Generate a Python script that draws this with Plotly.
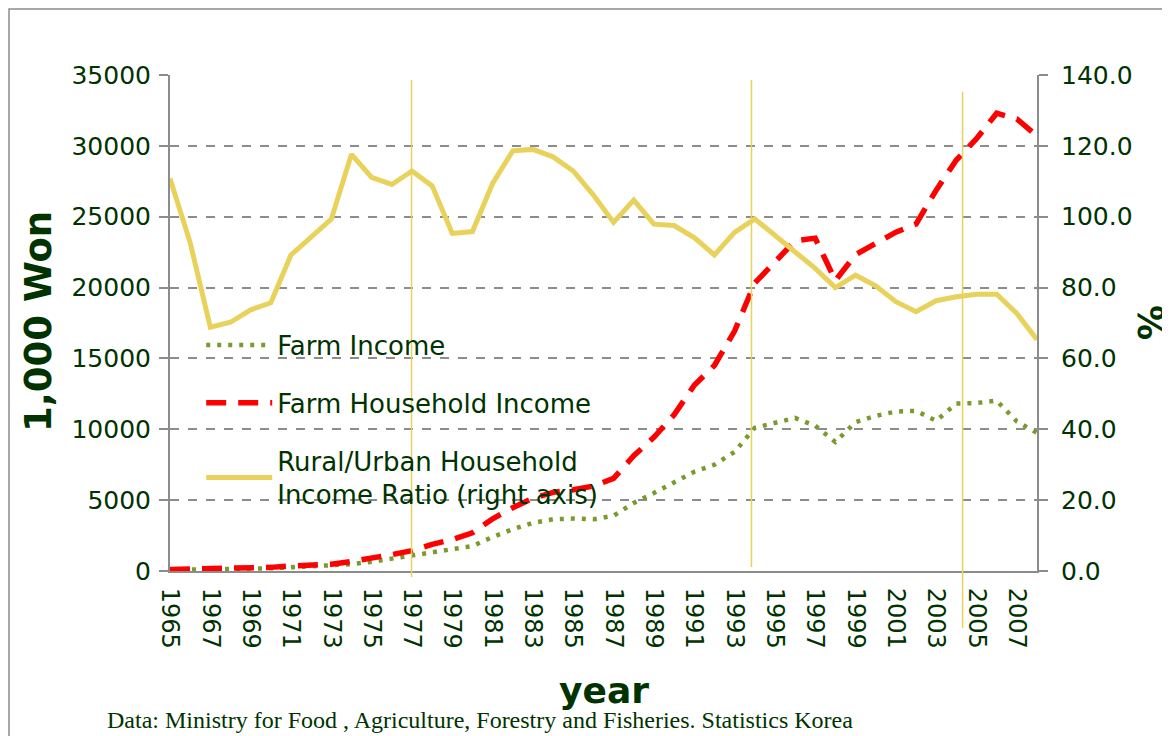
import plotly.graph_objects as go

years = list(range(1965, 2009))

farm_income = [80, 95, 110, 135, 160, 194, 260, 330, 370, 480, 650, 870, 1100, 1350, 1530,
               1760, 2400, 2950, 3400, 3650, 3700, 3650, 3900, 4800, 5500, 6260, 7000, 7500,
               8400, 10100, 10450, 10800, 10250, 9100, 10500, 10950, 11250, 11300, 10600,
               11820, 11850, 12020, 10550, 9750]

farm_household_income = [112, 130, 150, 178, 218, 256, 356, 429, 481, 674, 873, 1156, 1433,
                         1884, 2227, 2693, 3688, 4465, 5128, 5549, 5736, 5995, 6535, 8130,
                         9437, 11026, 13103, 14505, 16928, 20316, 21803, 23299, 23488, 20494,
                         22323, 23072, 23907, 24475, 26878, 29001, 30503, 32303, 31900, 30700]

ratio = [110.8, 92.7, 68.8, 70.2, 73.7, 75.7, 89.2, 94.4, 99.3, 117.6, 111.1, 109.1, 112.9,
         108.7, 95.3, 95.8, 109.4, 118.6, 119.0, 116.9, 112.9, 106.1, 98.4, 104.7, 97.9,
         97.5, 94.1, 89.2, 95.6, 99.4, 94.6, 90.0, 85.4, 80.0, 83.5, 80.5, 76.0, 73.2, 76.3,
         77.4, 78.1, 78.1, 72.7, 65.3]

x_ticks = list(range(1965, 2008, 2))
left_ticks = list(range(0, 35001, 5000))
right_ticks = [0, 20, 40, 60, 80, 100, 120, 140]

DARK = "#003300"
GREEN = "#7A9A2E"
RED = "#FF0000"
YELLOW = "#E8D25C"
GRID = "#8C8C8C"
FONT = "DejaVu Sans"

fig = go.Figure()
fig.add_trace(go.Scatter(x=years, y=farm_income, name="Farm Income", mode="lines",
                         line=dict(color=GREEN, width=4.5, dash="4px,7px"),
                         legendgroup="a"))
fig.add_trace(go.Scatter(x=years, y=farm_household_income, name="Farm Household Income",
                         mode="lines", line=dict(color=RED, width=5.5, dash="20px,12px"),
                         legendgroup="b"))
fig.add_trace(go.Scatter(x=years, y=ratio, name="Rural/Urban Household<br>Income Ratio (right axis)",
                         mode="lines", line=dict(color=YELLOW, width=5), yaxis="y2",
                         legendgroup="c"))

# thin vertical marker lines
for xv, y0, y1 in [(1976.98, -0.012, 0.99), (1993.84, 0.008, 0.99), (2004.31, -0.115, 0.966)]:
    fig.add_shape(type="line", xref="x", yref="paper", x0=xv, x1=xv, y0=y0, y1=y1,
                  line=dict(color=YELLOW, width=1.5), layer="above")

# outer frame (page body has an 8px margin; figure origin is at page (8, 8))
fig.add_shape(type="rect", xref="paper", yref="paper",
              x0=(9 - 170) / 867, x1=(1200 - 170) / 867, y0=-0.4, y1=(571 - 9) / 496,
              line=dict(color="#8C8C8C", width=1.5))

fig.update_layout(
    width=1162, height=728,
    margin=dict(l=162, r=133, t=67, b=165),
    paper_bgcolor="white", plot_bgcolor="white",
    font=dict(family=FONT, color=DARK, size=24),
    showlegend=True,
    legend=dict(x=0.036, y=0.503, xanchor="left", yanchor="top",
                bgcolor="rgba(0,0,0,0)", font=dict(size=26, color=DARK),
                tracegroupgap=21, itemwidth=66),
    xaxis=dict(range=[1965, 2008], tickvals=x_ticks, ticktext=[str(v) for v in x_ticks],
               tickangle=90, tickfont=dict(size=24, color=DARK), showgrid=False,
               showline=True, linecolor=GRID, linewidth=2, ticks="", zeroline=False,
               ticklabelstandoff=10),
    yaxis=dict(range=[0, 35000], tickvals=left_ticks, ticktext=[str(v) for v in left_ticks],
               tickfont=dict(size=25, color=DARK),
               showgrid=True, gridcolor=GRID, griddash="dash", gridwidth=1.5,
               showline=True, linecolor=GRID, linewidth=2, ticks="outside", ticklen=9,
               tickcolor=GRID, tickwidth=1.5, zeroline=False, ticklabelstandoff=3),
    yaxis2=dict(range=[0, 140], tickvals=right_ticks, tickformat=".1f", overlaying="y",
                side="right", tickfont=dict(size=25, color=DARK), showgrid=False,
                showline=True, linecolor=GRID, linewidth=2, ticks="outside", ticklen=9,
                tickcolor=GRID, tickwidth=1.5, zeroline=False, ticklabelstandoff=8),
    annotations=[
        dict(text="<b>year</b>", xref="paper", yref="paper", x=0.5, y=-119 / 496,
             xanchor="center", yanchor="middle",
             showarrow=False, font=dict(size=36, color=DARK, family=FONT)),
        dict(text="<b>1,000 Won</b>", xref="paper", yref="paper", x=-132 / 867, y=0.502,
             xanchor="center", yanchor="middle",
             showarrow=False, textangle=-90, font=dict(size=37, color=DARK, family=FONT)),
        dict(text="<b>%</b>", xref="paper", yref="paper", x=1 + 113 / 867, y=0.502,
             xanchor="center", yanchor="middle",
             showarrow=False, textangle=90, font=dict(size=35, color=DARK, family=FONT)),
        dict(text="Data: Ministry for Food , Agriculture, Forestry and Fisheries. Statistics Korea",
             xref="paper", yref="paper", x=(105 - 170) / 867, y=-149 / 496,
             xanchor="left", yanchor="middle",
             showarrow=False, font=dict(size=24, color=DARK, family="Liberation Serif")),
    ],
)

fig.write_html("out.html")
